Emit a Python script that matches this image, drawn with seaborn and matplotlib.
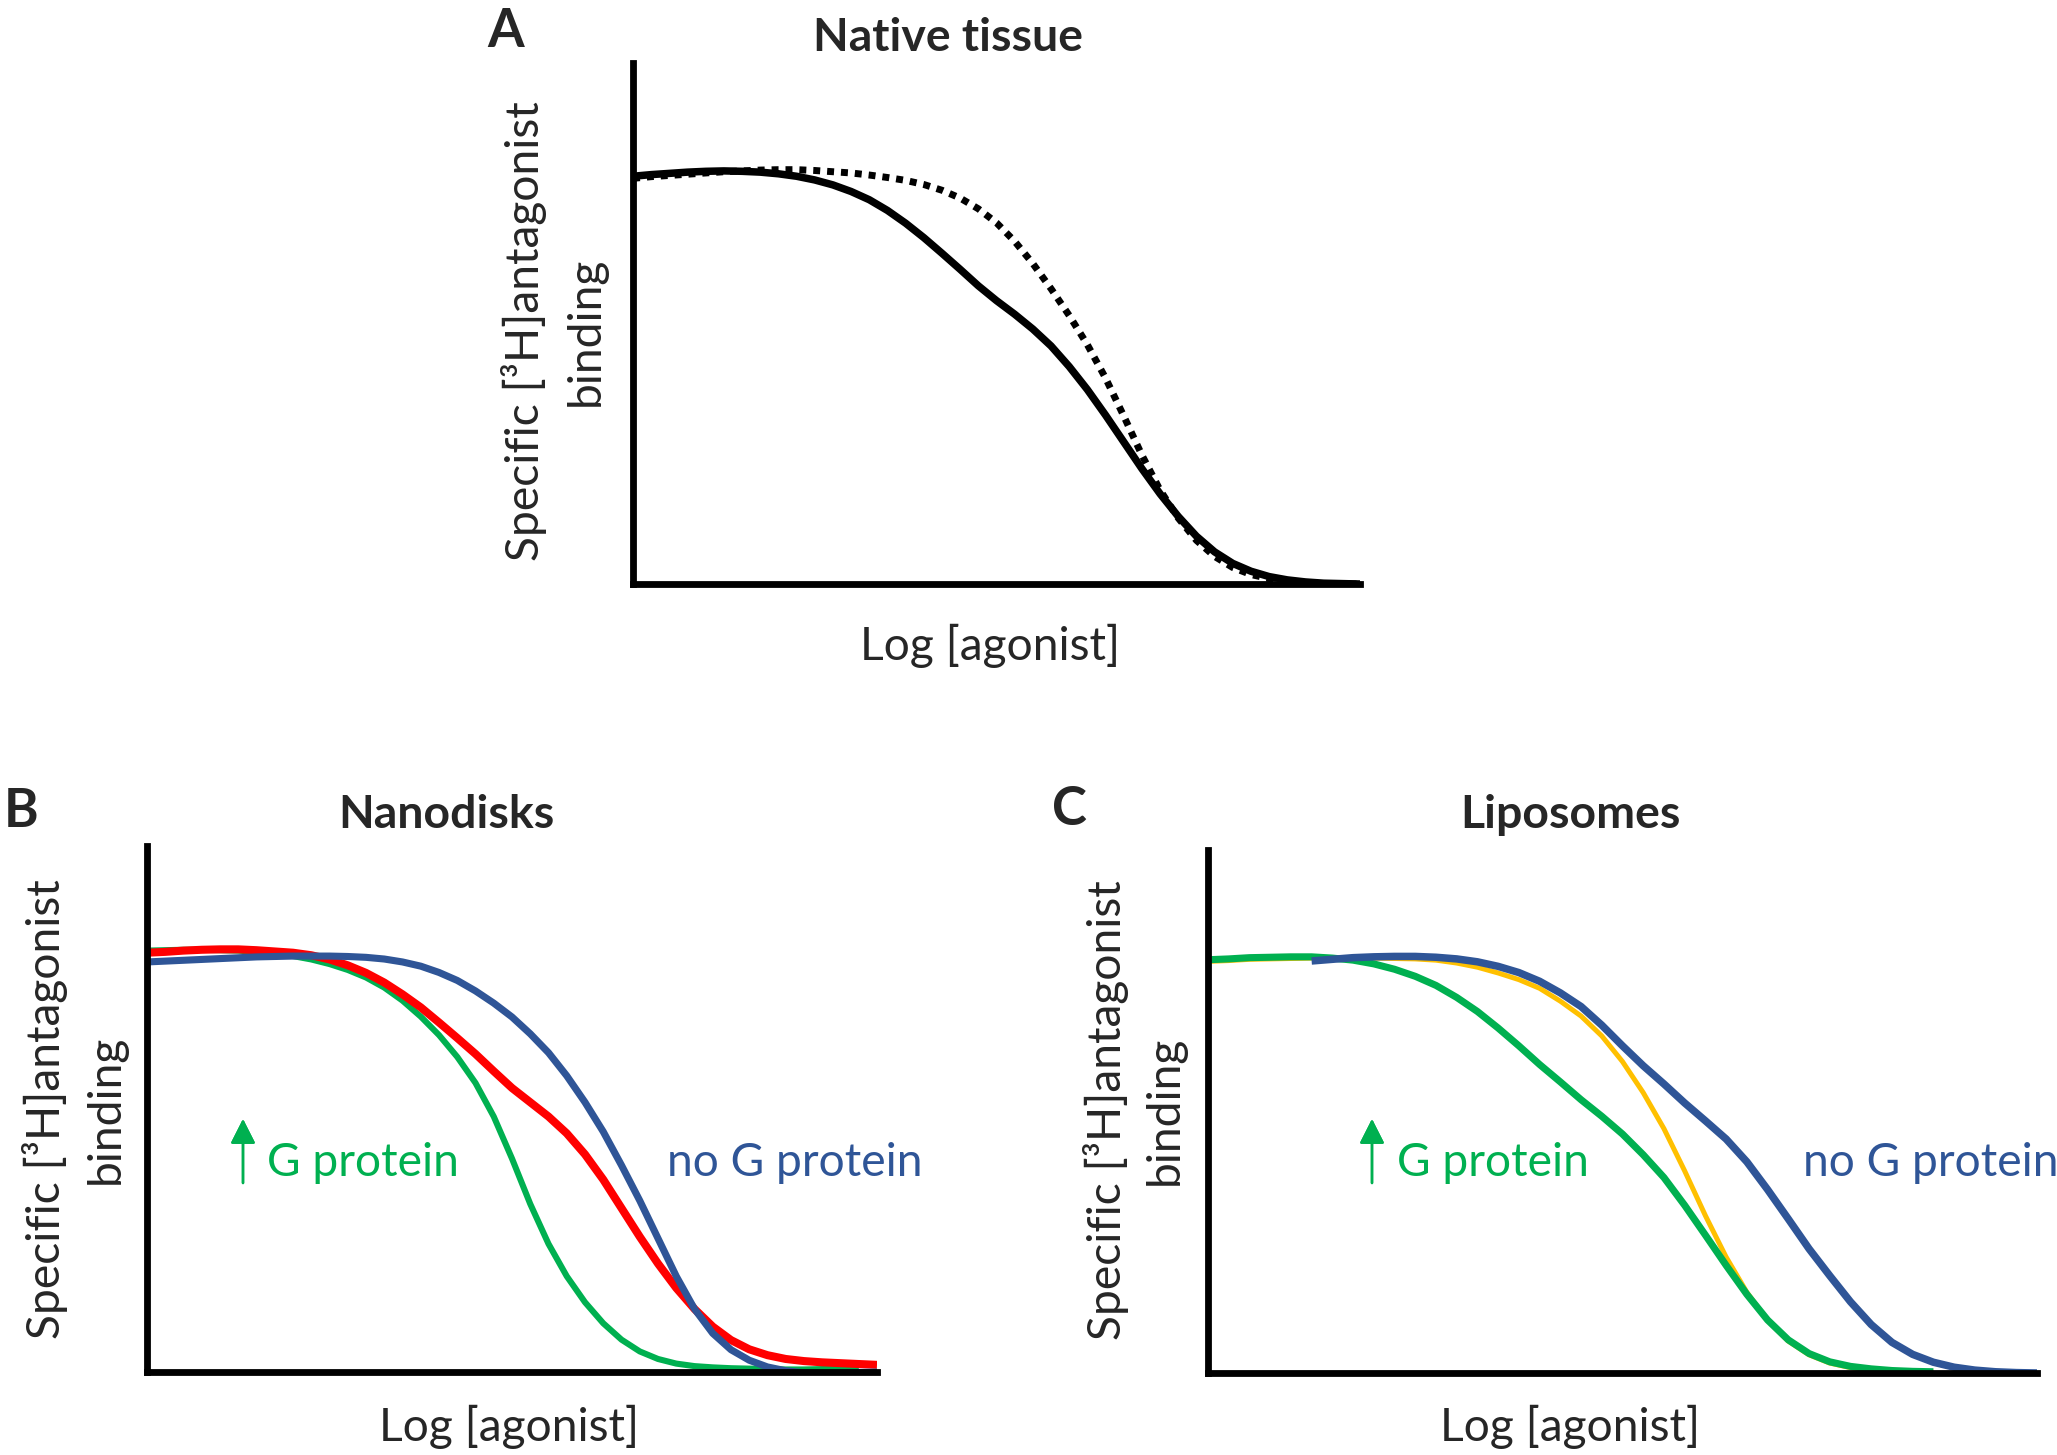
import numpy as np
import pandas as pd
import seaborn as sns
import matplotlib.pyplot as plt

# ---- data (x = log[agonist] in arbitrary units 0..10) ----
dose = [0.0, 0.25, 0.5, 0.75, 1.0, 1.25, 1.5, 1.75, 2.0, 2.25, 2.5, 2.75, 3.0, 3.25,
        3.5, 3.75, 4.0, 4.25, 4.5, 4.75, 5.0, 5.25, 5.5, 5.75, 6.0, 6.25, 6.5, 6.75,
        7.0, 7.25, 7.5, 7.75, 8.0, 8.25, 8.5, 8.75, 9.0, 9.25, 9.5, 9.75, 10.0]

# A - native tissue
native_solid = [0.990, 0.994, 0.997, 1.000, 1.002, 1.003, 1.002, 1.000, 0.996, 0.990, 0.981,
                0.969, 0.953, 0.933, 0.907, 0.876, 0.841, 0.803, 0.764, 0.724, 0.688, 0.655,
                0.619, 0.578, 0.528, 0.472, 0.410, 0.345, 0.280, 0.219, 0.164, 0.116, 0.078,
                0.050, 0.031, 0.018, 0.010, 0.005, 0.002, 0.001, 0.000]
native_dotted = [0.985, 0.989, 0.992, 0.995, 0.998, 1.001, 1.003, 1.005, 1.006, 1.006, 1.004,
                 1.001, 0.998, 0.993, 0.987, 0.980, 0.970, 0.956, 0.937, 0.911, 0.877, 0.832,
                 0.778, 0.717, 0.652, 0.581, 0.500, 0.408, 0.313, 0.228, 0.160, 0.106, 0.067,
                 0.040, 0.023, 0.013, 0.006, 0.003, 0.001, 0.000, 0.000]

# B - nanodisks
nano_green = [1.003, 1.004, 1.005, 1.005, 1.004, 1.003, 1.000, 0.996, 0.990, 0.982, 0.971,
              0.957, 0.939, 0.915, 0.884, 0.846, 0.802, 0.750, 0.688, 0.608, 0.508, 0.400,
              0.305, 0.228, 0.166, 0.116, 0.077, 0.049, 0.031, 0.020, 0.014, 0.011, 0.009,
              0.008, 0.007, 0.006, 0.006, 0.007, 0.008, 0.011]
nano_red = [0.998, 1.000, 1.003, 1.005, 1.006, 1.006, 1.004, 1.001, 0.998, 0.992, 0.982,
            0.968, 0.950, 0.927, 0.899, 0.868, 0.832, 0.795, 0.757, 0.716, 0.676, 0.642,
            0.608, 0.568, 0.518, 0.458, 0.390, 0.322, 0.258, 0.200, 0.150, 0.108, 0.076,
            0.054, 0.040, 0.031, 0.026, 0.023, 0.021, 0.019, 0.017]
nano_blue = [0.976, 0.978, 0.980, 0.982, 0.984, 0.986, 0.988, 0.989, 0.990, 0.990, 0.990,
             0.989, 0.987, 0.983, 0.976, 0.966, 0.951, 0.932, 0.907, 0.878, 0.845, 0.805,
             0.760, 0.705, 0.642, 0.572, 0.492, 0.408, 0.318, 0.228, 0.150, 0.092, 0.053,
             0.028, 0.012, 0.003, -0.002, -0.004, -0.003, -0.001, 0.000]

# C - liposomes
lipo_green = [0.998, 1.000, 1.003, 1.004, 1.005, 1.005, 1.002, 0.997, 0.988, 0.975, 0.958,
              0.936, 0.907, 0.873, 0.833, 0.790, 0.745, 0.703, 0.660, 0.620, 0.577, 0.527,
              0.472, 0.405, 0.333, 0.260, 0.190, 0.128, 0.080, 0.047, 0.027, 0.016, 0.010,
              0.006, 0.004, 0.003]
lipo_yellow = [0.994, 0.996, 0.999, 1.000, 1.001, 1.002, 1.002, 1.002, 1.002, 1.001, 1.000,
               0.997, 0.990, 0.980, 0.966, 0.950, 0.929, 0.898, 0.862, 0.814, 0.752, 0.677,
               0.590, 0.488, 0.380, 0.280, 0.195, 0.127, 0.077, 0.044, 0.024, 0.013, 0.007,
               0.004, 0.003, 0.002]
lipo_blue = [0.995, 0.999, 1.003, 1.005, 1.006, 1.006, 1.004, 1.000, 0.993, 0.982, 0.967,
             0.946, 0.918, 0.885, 0.840, 0.790, 0.742, 0.698, 0.652, 0.609, 0.565, 0.510,
             0.443, 0.372, 0.300, 0.235, 0.172, 0.117, 0.074, 0.045, 0.026, 0.014, 0.007,
             0.003, 0.001, 0.000]   # starts at dose 1.25

ylabel_1 = "Specific [³H]antagonist"
ylabel_2 = "binding"
xlabel = "Log [agonist]"

GREEN = "#00B050"
RED = "#FF0000"
BLUE = "#2F5597"
YELLOW = "#FFC000"

W, H, DPI = 2057, 1455, 100

sns.set_theme(style="white")
plt.rcParams["font.family"] = ["Lato", "DejaVu Sans"]

fig = plt.figure(figsize=(W / DPI, H / DPI), dpi=DPI)
renderer = fig.canvas.get_renderer()


def fx(px):
    return px / W


def fy(py):
    return 1 - py / H


def fit_size(text, target_px, weight="normal"):
    t = fig.text(0, 0, text, fontsize=20, fontweight=weight)
    w = t.get_window_extent(renderer=renderer).width
    t.remove()
    return 20 * target_px / w


FS = fit_size(xlabel, 260)
FS_B = fit_size("Native tissue", 270, "bold")
FS_L = 38


def make_axes(left, top, right, bottom, ytop):
    ax = fig.add_axes([fx(left), fy(bottom), fx(right - left), (bottom - top) / H])
    ax.set_xlim(0, 10)
    ax.set_ylim(0, ytop)
    sns.despine(ax=ax)
    for s in ["left", "bottom"]:
        ax.spines[s].set_linewidth(4.9)
        ax.spines[s].set_color("black")
        ax.spines[s].set_capstyle("projecting")
    return ax


def finish(ax):
    ax.set_xticks([])
    ax.set_yticks([])
    ax.set_xlabel("")
    ax.set_ylabel("")


ax_a = make_axes(633, 63, 1360, 584, 1.265)
ax_b = make_axes(147, 846, 877, 1372, 1.252)
ax_c = make_axes(1208, 850, 2037, 1373, 1.263)

# panel A
df_a = pd.DataFrame({"dose": dose, "solid": native_solid, "dotted": native_dotted})
sns.lineplot(data=df_a, x="dose", y="solid", ax=ax_a, color="black", linewidth=5.4,
             solid_capstyle="butt", sort=False)
sns.lineplot(data=df_a, x="dose", y="dotted", ax=ax_a, color="black", linewidth=5.0,
             linestyle=(0, (1, 1)), dash_capstyle="butt", sort=False)

# panel B
sns.lineplot(x=dose[:len(nano_green)], y=nano_green, ax=ax_b, color=GREEN, linewidth=4.4,
             solid_capstyle="butt", sort=False)
sns.lineplot(x=dose, y=nano_red, ax=ax_b, color=RED, linewidth=5.8,
             solid_capstyle="butt", sort=False)
sns.lineplot(x=dose, y=nano_blue, ax=ax_b, color=BLUE, linewidth=5.1,
             solid_capstyle="butt", sort=False)

# panel C
sns.lineplot(x=dose[:len(lipo_yellow)], y=lipo_yellow, ax=ax_c, color=YELLOW, linewidth=3.6,
             solid_capstyle="butt", sort=False)
sns.lineplot(x=dose[:len(lipo_green)], y=lipo_green, ax=ax_c, color=GREEN, linewidth=5.1,
             solid_capstyle="butt", sort=False)
sns.lineplot(x=dose[5:], y=lipo_blue, ax=ax_c, color=BLUE, linewidth=5.4,
             solid_capstyle="butt", sort=False)

for ax in (ax_a, ax_b, ax_c):
    finish(ax)

# panel letters and titles
for letter, x, y in [("A", 506, 47), ("B", 21, 827), ("C", 1069, 825)]:
    fig.text(fx(x), fy(y), letter, fontsize=FS_L, fontweight="bold", ha="center", va="baseline")
for title, x, y in [("Native tissue", 948, 51), ("Nanodisks", 446, 828), ("Liposomes", 1570, 828)]:
    fig.text(fx(x), fy(y), title, fontsize=FS_B, fontweight="bold", ha="center", va="baseline")

# axis labels
for x1, x2, yc in [(524, 586, 331), (45, 106, 1109), (1106, 1165, 1110)]:
    fig.text(fx(x1), fy(yc), ylabel_1, fontsize=FS, rotation=90, ha="center", va="center")
    fig.text(fx(x2), fy(yc), ylabel_2, fontsize=FS, rotation=90, ha="center", va="center")
for x, y in [(990, 660), (509, 1441), (1570, 1441)]:
    fig.text(fx(x), fy(y), xlabel, fontsize=FS, ha="center", va="baseline")

# annotations
for ax_x, tx, ntx in [(243, 267, 667), (1372, 1397, 1803)]:
    fig.text(fx(tx), fy(1176), "G protein", fontsize=FS, color=GREEN, ha="left", va="baseline")
    fig.text(fx(ntx), fy(1176), "no G protein", fontsize=FS, color=BLUE, ha="left", va="baseline")
    fig.add_artist(plt.annotate(
        "", xy=(fx(ax_x), fy(1119)), xytext=(fx(ax_x), fy(1183)),
        xycoords="figure fraction", textcoords="figure fraction",
        arrowprops=dict(arrowstyle="-|>,head_length=0.75,head_width=0.38", color=GREEN,
                        lw=1.8, shrinkA=0, shrinkB=0, mutation_scale=20)))

fig.savefig("out.png", dpi=DPI)
